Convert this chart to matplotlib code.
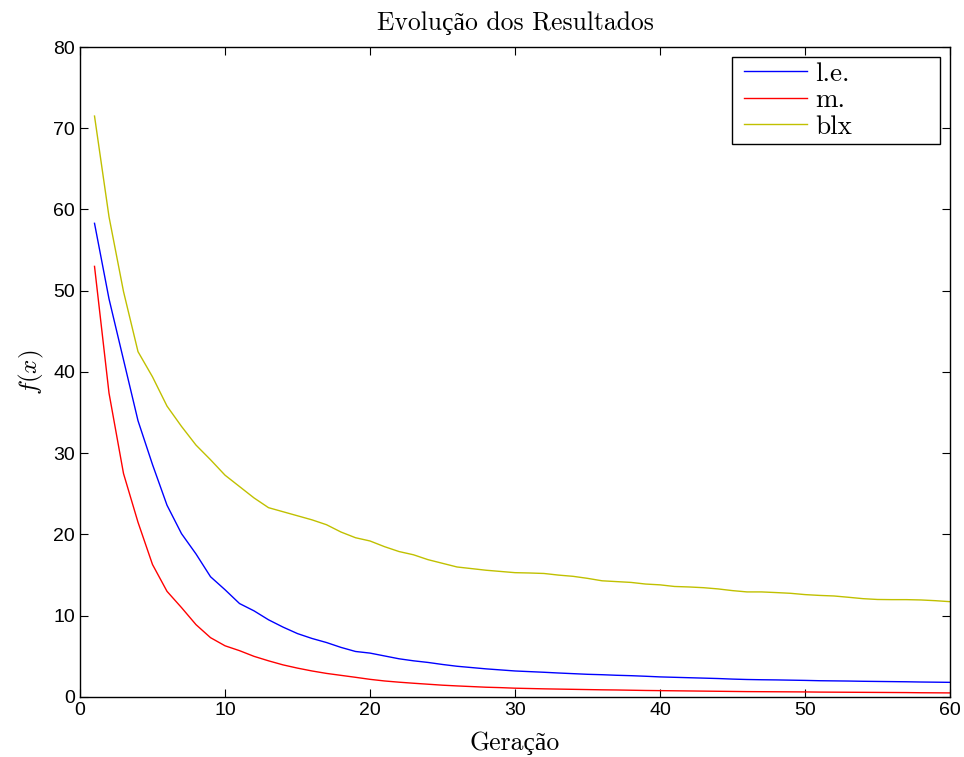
import numpy as np
import matplotlib
matplotlib.use("Agg")
import matplotlib.pyplot as plt
from matplotlib.legend_handler import HandlerLine2D
from matplotlib.lines import Line2D

# geracoes e valores de f(x) para cada operador de cruzamento
geracao = list(range(1, 61))

le = [58.3, 49.0, 41.5, 34.0, 28.6, 23.6, 20.1, 17.6, 14.8, 13.2,
      11.5, 10.6, 9.5, 8.6, 7.8, 7.2, 6.7, 6.1, 5.6, 5.4,
      5.05, 4.7, 4.45, 4.25, 4.0, 3.78, 3.62, 3.46, 3.33, 3.2,
      3.12, 3.04, 2.95, 2.87, 2.79, 2.74, 2.67, 2.62, 2.55, 2.47,
      2.42, 2.37, 2.32, 2.27, 2.2, 2.15, 2.12, 2.1, 2.07, 2.04,
      2.0, 1.98, 1.96, 1.93, 1.91, 1.89, 1.87, 1.84, 1.82, 1.8]

m = [53.0, 37.4, 27.5, 21.5, 16.3, 13.0, 11.0, 8.9, 7.3, 6.3,
     5.7, 5.0, 4.45, 3.95, 3.55, 3.2, 2.9, 2.66, 2.42, 2.17,
     1.97, 1.82, 1.69, 1.57, 1.45, 1.36, 1.28, 1.2, 1.15, 1.08,
     1.04, 1.0, 0.97, 0.94, 0.91, 0.88, 0.86, 0.83, 0.8, 0.78,
     0.76, 0.74, 0.72, 0.7, 0.68, 0.66, 0.65, 0.64, 0.63, 0.62,
     0.6, 0.59, 0.58, 0.57, 0.56, 0.55, 0.54, 0.52, 0.51, 0.5]

blx = [71.5, 59.1, 49.9, 42.5, 39.4, 35.8, 33.3, 31.0, 29.2, 27.3,
       25.9, 24.5, 23.3, 22.8, 22.3, 21.8, 21.2, 20.3, 19.6, 19.2,
       18.5, 17.9, 17.5, 16.9, 16.45, 16.0, 15.8, 15.6, 15.45, 15.3,
       15.26, 15.2, 15.0, 14.85, 14.6, 14.3, 14.2, 14.1, 13.9, 13.8,
       13.6, 13.54, 13.45, 13.3, 13.09, 12.93, 12.93, 12.85, 12.76, 12.6,
       12.5, 12.43, 12.27, 12.1, 12.0, 11.98, 11.98, 11.94, 11.85, 11.73]

plt.rcParams['mathtext.fontset'] = 'cm'
serif = ['cmr10', 'Liberation Serif']

fig = plt.figure(figsize=(9.64, 7.57), dpi=100)
ax = fig.add_axes([0.083, 0.0793, 0.9025, 0.8586])

ax.plot(geracao, le, color='blue', lw=1, label='l.e.')
ax.plot(geracao, m, color='red', lw=1, label='m.')
ax.plot(geracao, blx, color='#c0c000', lw=1, label='blx')

ax.set_xlim(0, 60)
ax.set_ylim(0, 80)
ax.set_xticks(np.arange(0, 61, 10))
ax.set_yticks(np.arange(0, 81, 10))
ax.tick_params(direction='in', top=True, right=True, length=6, width=0.8, labelsize=14)
for lab in ax.get_xticklabels() + ax.get_yticklabels():
    lab.set_family('Liberation Sans')
for s in ax.spines.values():
    s.set_linewidth(1)

ax.set_title('Evolução dos Resultados', family=serif, fontsize=18.5, pad=12)
ax.set_xlabel('Geração', family=serif, fontsize=18.5, labelpad=9)
ax.set_ylabel(r'$f(x)$', fontsize=18, labelpad=5)

# caixa da legenda larga, como no MATLAB
leg = ax.legend(loc='upper left', mode='expand', prop={'family': serif, 'size': 19.5},
                fancybox=False, edgecolor='black', framealpha=1,
                handlelength=2.585, handletextpad=0.33, borderaxespad=0.0,
                labelspacing=0.1, borderpad=0.17,
                handler_map={Line2D: HandlerLine2D(xpad=0.26)},
                bbox_to_anchor=(0.7494, 0.9846, 0.2391, 0))
leg.get_frame().set_linewidth(1)

plt.savefig('out.png', dpi=100)
